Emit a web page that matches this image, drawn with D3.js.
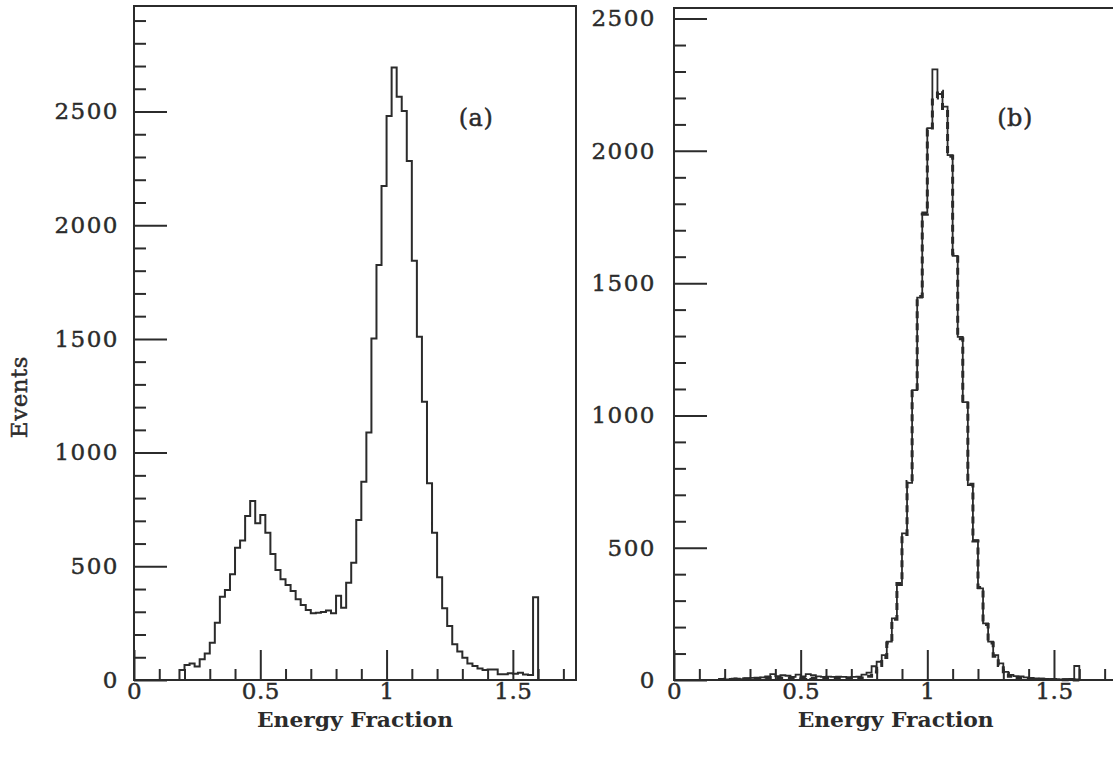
<!DOCTYPE html>
<html>
<head>
<meta charset="utf-8">
<script src="https://cdn.jsdelivr.net/npm/d3@7"></script>
<style>
  html, body { margin: 0; padding: 0; background: #ffffff; }
  svg { display: block; }
  text { font-family: "DejaVu Serif", "Liberation Serif", serif; fill: #2b2b2b; }
</style>
</head>
<body>
<svg id="chart" width="1113" height="759"></svg>
<script>
// ---------------- data ----------------
const binStart = 0.18;
const binWidth = 0.02;

// panel (a): events per 0.02 bin, starting at 0.18
const countsA = [
  44, 66, 73, 59, 91, 117, 164, 252, 366, 396,
  465, 582, 613, 721, 787, 689, 726, 648, 554, 484,
  443, 418, 391, 355, 330, 308, 293, 296, 299, 306,
  293, 371, 318, 428, 516, 704, 872, 1088, 1502, 1825,
  2172, 2480, 2693, 2565, 2502, 2282, 1844, 1510, 1224, 865,
  648, 452, 315, 237, 157, 125, 98, 73, 62, 51,
  44, 46, 46, 25, 25, 30, 27, 32, 24, 22,
  364
];

// panel (b): solid histogram, starting at 0.18
const countsBSolid = [
  3, 2, 4, 5, 3, 6, 8, 6, 10, 14,
  22, 15, 18, 16, 12, 20, 14, 22, 18, 14,
  12, 13, 12, 13, 12, 11, 12, 13, 20, 28,
  52, 69, 94, 145, 233, 359, 554, 745, 1096, 1445,
  1767, 2086, 2308, 2215, 2167, 1984, 1603, 1297, 1050, 737,
  529, 346, 214, 145, 94, 63, 31, 19, 15, 14,
  10, 8, 6, 5, 4, 3, 3, 2, 3, 4,
  53
];

// panel (b): dashed histogram, starting at 0.18
const countsBDashed = [
  2, 3, 3, 4, 5, 5, 6, 7, 6, 8,
  9, 8, 7, 8, 9, 8, 7, 8, 7, 6,
  6, 7, 6, 6, 5, 5, 6, 6, 8, 14,
  30, 55, 85, 140, 230, 365, 550, 750, 1090, 1450,
  1760, 2080, 2200, 2225, 2160, 1980, 1610, 1290, 1055, 740,
  525, 350, 210, 140, 90, 55, 25, 14, 8, 6,
  5, 4, 3, 3, 2, 2, 2, 1, 1, 1,
  0
];

const xMajorTicks = [0, 0.5, 1, 1.5];
const xTickLabels = ["0", "0.5", "1", "1.5"];
const yMajorTicksA = [0, 500, 1000, 1500, 2000, 2500];
const yMajorTicksB = [0, 500, 1000, 1500, 2000, 2500];
const xTitle = "Energy Fraction";
const yTitle = "Events";
const panelLabels = ["(a)", "(b)"];

// ---------------- drawing ----------------
const svg = d3.select("#chart");
const ink = "#2b2b2b";

function styleText(sel, size, spacing) {
  sel.attr("font-size", size).attr("letter-spacing", spacing)
    .attr("fill", ink).attr("stroke", ink).attr("stroke-width", 0.45)
    .attr("font-family", "DejaVu Serif");
}

function drawPanel(opt) {
  const x = d3.scaleLinear().domain([0, 1.75]).range([opt.left, opt.right]);
  const y = d3.scaleLinear().domain([0, opt.yMax]).range([opt.bottom, opt.top]);
  const g = svg.append("g");

  // minor ticks
  const yMinor = d3.range(100, opt.yMax, 100).filter(v => v % 500 !== 0);
  const xMinor = d3.range(0.1, 1.75, 0.1).map(v => +v.toFixed(2)).filter(v => Math.abs(v * 2 - Math.round(v * 2)) > 1e-6);

  g.append("g").attr("transform", `translate(${opt.left},0)`)
    .call(d3.axisLeft(y).tickValues(yMinor).tickSize(-12).tickFormat(""))
    .call(s => s.select(".domain").remove())
    .call(s => s.selectAll("line").attr("stroke", ink).attr("stroke-width", 2));

  g.append("g").attr("transform", `translate(${opt.left},0)`)
    .call(d3.axisLeft(y).tickValues(opt.yMajor).tickSize(-33).tickPadding(opt.yPad).tickFormat(d3.format("d")))
    .call(s => s.select(".domain").remove())
    .call(s => s.selectAll("line").attr("stroke", ink).attr("stroke-width", 2))
    .call(s => styleText(s.selectAll("text"), 23, 1.5));

  g.append("g").attr("transform", `translate(0,${opt.bottom})`)
    .call(d3.axisBottom(x).tickValues(xMinor).tickSize(-11).tickFormat(""))
    .call(s => s.select(".domain").remove())
    .call(s => s.selectAll("line").attr("stroke", ink).attr("stroke-width", 2));

  g.append("g").attr("transform", `translate(0,${opt.bottom})`)
    .call(d3.axisBottom(x).tickValues(xMajorTicks).tickSize(-30).tickPadding(3)
      .tickFormat((d, i) => xTickLabels[i]))
    .call(s => s.select(".domain").remove())
    .call(s => s.selectAll("line").attr("stroke", ink).attr("stroke-width", 2))
    .call(s => styleText(s.selectAll("text"), 23, 0.5));

  // frame
  g.append("rect")
    .attr("x", opt.left).attr("y", opt.top)
    .attr("width", opt.right - opt.left).attr("height", opt.bottom - opt.top)
    .attr("fill", "none").attr("stroke", ink).attr("stroke-width", 2);

  // histograms
  const line = d3.line().x(d => x(d[0])).y(d => y(d[1])).curve(d3.curveStepAfter);
  opt.series.forEach(s => {
    const pts = [[binStart, 0]];
    s.counts.forEach((c, i) => pts.push([binStart + i * binWidth, c]));
    pts.push([binStart + s.counts.length * binWidth, 0]);
    g.append("path").attr("d", line(pts))
      .attr("fill", "none").attr("stroke", ink)
      .attr("stroke-width", s.width)
      .attr("stroke-dasharray", s.dash || null)
      .attr("stroke-linejoin", "miter");
  });

  // x title
  g.append("text")
    .attr("x", (opt.left + opt.left + x(1.75) - x(0)) / 2)
    .attr("y", 727)
    .attr("text-anchor", "middle")
    .attr("font-size", 20).attr("font-weight", "bold")
    .attr("fill", ink)
    .attr("textLength", 196).attr("lengthAdjust", "spacingAndGlyphs")
    .text(xTitle);

  // panel label
  const lab = g.append("text")
    .attr("x", opt.labelX).attr("y", 126)
    .attr("text-anchor", "middle")
    .text(opt.label);
  styleText(lab, 24, 0.5);
}

drawPanel({
  left: 134, right: 576, top: 6, bottom: 680, yMax: 2964, yPad: 15,
  yMajor: yMajorTicksA, labelX: 476, label: panelLabels[0],
  series: [{ counts: countsA, width: 2 }]
});

drawPanel({
  left: 674, right: 1117.3, top: 8, bottom: 680, yMax: 2540, yPad: 18,
  yMajor: yMajorTicksB, labelX: 1015, label: panelLabels[1],
  series: [
    { counts: countsBDashed, width: 3, dash: "7,5" },
    { counts: countsBSolid, width: 1.8 }
  ]
});

// y title
const yt = svg.append("text")
  .attr("transform", "translate(27,397) rotate(-90)")
  .attr("text-anchor", "middle")
  .text(yTitle);
styleText(yt, 23, 0.5);
</script>
</body>
</html>
